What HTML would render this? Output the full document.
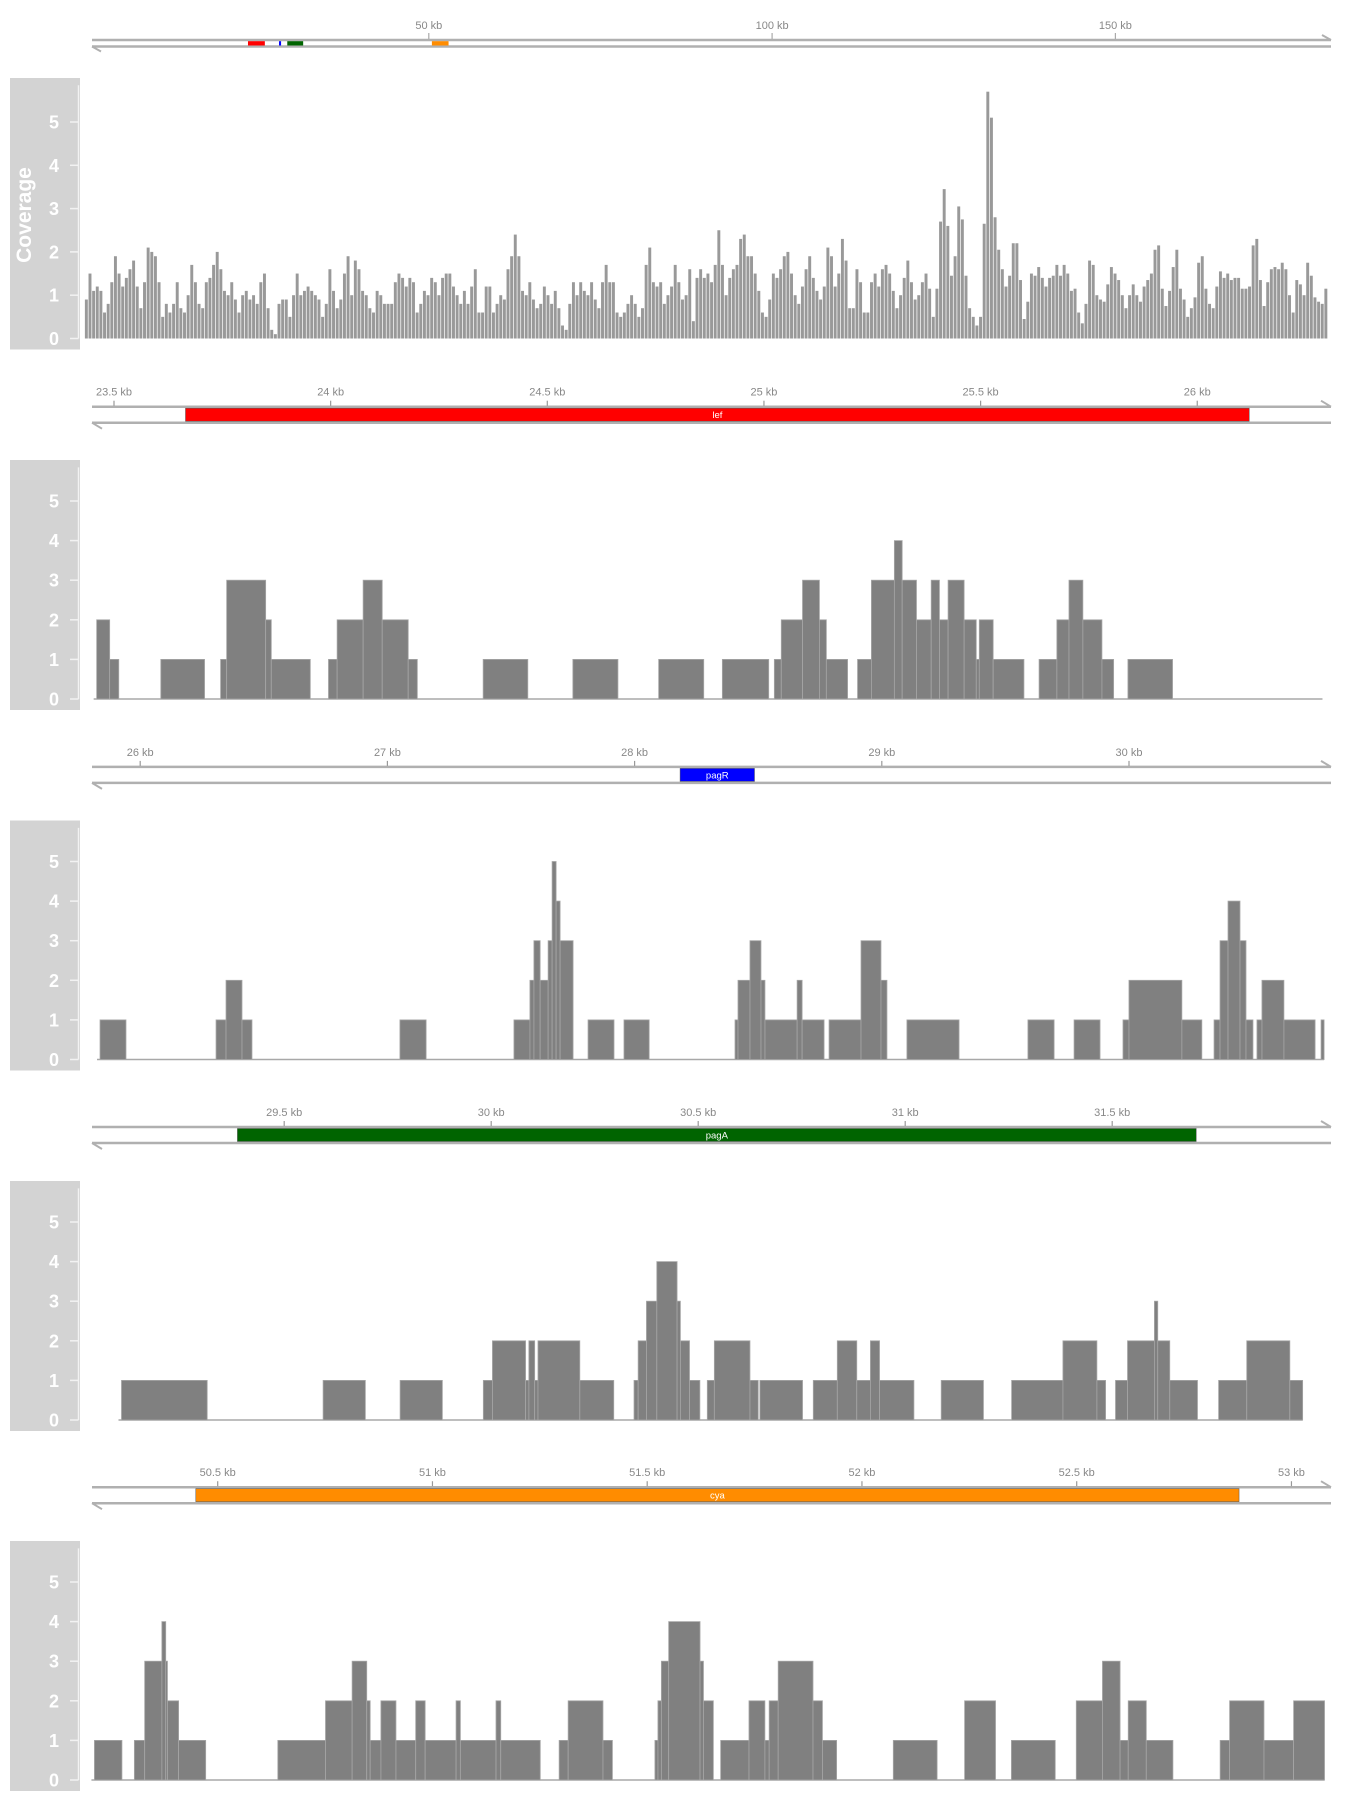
<!DOCTYPE html>
<html><head><meta charset="utf-8"><title>Coverage tracks</title>
<style>
html,body{margin:0;padding:0;background:#fff;}
svg{display:block;font-family:"Liberation Sans",sans-serif;}
</style></head>
<body>
<svg id="chart" width="1350" height="1800" viewBox="0 0 1350 1800" xmlns="http://www.w3.org/2000/svg"></svg>
<script>
// ---------- data ----------
const cov1Start = 23432, cov1End = 26301;
const cov1 = [0.9,1.5,1.1,1.2,1.1,0.6,0.8,1.3,1.9,1.5,1.2,
1.4,1.6,1.8,1.2,0.7,1.3,2.1,2.0,1.9,1.3,
0.5,0.8,0.6,0.8,1.3,0.7,0.6,1.0,1.7,1.3,0.8,0.7,1.3,1.4,1.7,2.0,1.6,
1.1,1.0,1.3,0.9,0.6,1.0,1.1,0.9,1.0,0.8,1.3,1.5,0.7,0.2,0.1,0.8,0.9,0.9,0.5,
1.0,1.5,1.0,1.1,1.2,1.1,1.0,0.9,0.5,0.8,1.6,1.1,0.7,0.9,1.5,1.9,1.0,1.8,1.6,
1.1,1.0,0.7,0.6,1.1,1.0,0.8,0.8,0.8,1.3,1.5,1.4,1.2,1.4,1.3,0.6,0.8,1.1,1.0,1.4,
1.3,1.0,1.4,1.5,1.5,1.2,1.0,0.8,1.1,0.8,1.2,1.6,0.6,0.6,1.2,1.2,0.6,0.8,1.0,0.9,1.6,
1.9,2.4,1.9,1.1,1.0,1.3,0.9,0.7,0.8,1.2,1.0,0.8,1.1,0.7,0.3,0.2,0.8,1.3,1.0,
1.3,1.1,1.0,1.3,0.9,0.7,1.3,1.7,1.3,1.3,0.6,0.5,0.6,0.8,1.0,0.8,
0.5,0.7,1.7,2.1,1.3,1.2,1.3,0.8,1.0,1.2,1.7,1.3,0.9,1.0,1.6,0.4,1.4,1.6,1.4,1.5,1.3,1.7,2.5,1.7,1.0,
1.4,1.6,1.7,2.3,2.4,1.9,1.9,1.5,1.1,0.6,0.5,0.9,1.5,1.4,1.6,1.9,2.0,1.5,1.0,0.8,1.2,1.6,1.9,1.4,1.1,0.9,
1.2,2.1,1.9,1.2,1.5,2.3,1.8,0.7,0.7,1.6,1.3,0.6,0.6,1.3,1.5,1.2,1.6,1.7,1.5,1.1,0.7,1.0,1.4,1.8,1.3,0.9,
1.0,1.3,1.5,1.15,0.5,1.15,2.7,3.45,2.6,1.45,1.9,3.05,2.75,1.45,0.7,0.5,0.3,0.5,2.65,
5.7,5.1,2.8,2.05,1.6,1.2,1.45,2.2,2.2,1.35,0.45,0.85,1.5,1.45,1.65,1.4,1.2,1.4,1.45,1.7,1.45,1.7,1.5,1.1,1.15,0.6,0.35,0.8,1.8,1.7,1.0,0.9,0.85,1.25,1.65,1.5,1.35,1.0,0.7,1.0,1.25,1.0,0.85,1.2,1.35,1.5,2.05,2.15,1.15,0.75,1.1,1.65,2.05,1.15,0.9,0.5,0.7,0.95,1.75,1.9,1.15,0.8,0.7,1.2,1.55,1.4,1.5,1.35,1.4,1.4,1.15,1.15,1.2,2.15,2.3,1.35,0.75,1.3,1.6,1.65,1.6,1.75,1.6,1.0,0.6,1.35,1.25,1.0,1.75,1.45,0.95,0.85,0.8,1.15];

const cov2Breaks = [23460,23490,23511,23608,23709,23746,23760,23850,23863,23953,23995,24015,24075,24119,24179,24200,24352,24455,24559,24663,24757,24861,24904,25011,25024,25040,25089,25128,25144,25193,25216,25248,25301,25319,25352,25386,25405,25425,25462,25490,25497,25529,25600,25635,25676,25704,25736,25780,25807,25840,25943,26289];
const cov2Vals = [2,1,0,1,0,1,3,2,1,0,1,2,3,2,1,0,1,0,1,0,1,0,1,0,1,2,3,2,1,0,1,3,4,3,2,3,2,3,2,1,2,1,0,1,2,3,2,1,0,1,0];

const cov3Breaks = [25839,25943,26304,26344,26408,26448,27041,27146,27498,27562,27578,27603,27635,27651,27667,27683,27735,27795,27899,27939,28040,28384,28396,28444,28488,28504,28633,28653,28741,28761,28889,28969,28993,29073,29282,29558,29663,29743,29847,29939,29963,30175,30255,30304,30328,30360,30408,30432,30460,30476,30496,30584,30709,30733,30745];
const cov3Vals = [1,0,1,2,1,0,1,0,1,2,3,2,3,5,4,3,0,1,0,1,0,1,2,3,2,1,2,1,0,1,3,2,0,1,0,1,0,1,0,1,2,1,0,1,3,4,3,1,0,1,2,1,0,1];

const cov4Breaks = [29107,29314,29594,29696,29780,29882,29981,30003,30083,30091,30105,30113,30214,30296,30345,30355,30375,30400,30449,30457,30479,30504,30522,30539,30625,30645,30649,30752,30778,30836,30883,30916,30938,31021,31087,31189,31257,31381,31463,31484,31508,31537,31602,31610,31639,31706,31757,31825,31929,31960];
const cov4Vals = [1,0,1,0,1,0,1,2,1,2,1,2,1,0,1,2,3,4,3,2,1,0,1,2,1,0,1,0,1,2,1,2,1,0,1,0,1,2,1,0,1,2,3,2,1,0,1,2,1];

const cov5Breaks = [50213,50277,50306,50330,50370,50379,50383,50409,50472,50640,50751,50813,50847,50855,50880,50915,50961,50983,51055,51065,51148,51159,51251,51295,51316,51397,51419,51518,51525,51533,51550,51623,51631,51654,51671,51737,51774,51784,51805,51886,51908,51941,52073,52175,52239,52311,52348,52450,52499,52560,52601,52620,52662,52724,52834,52856,52936,53005,53077];
const cov5Vals = [1,0,1,3,4,3,2,1,0,1,2,3,2,1,2,1,2,1,2,1,2,1,0,1,2,1,0,1,2,3,4,3,2,0,1,2,1,2,3,2,1,0,1,0,2,0,1,0,2,3,1,2,1,0,1,2,1,2];

const geneNames = ["lef","pagR","pagA","cya"];
const geneStarts = [23665,28184,29387,50449];
const geneEnds = [26120,28485,31703,52878];
const geneColors = ["#ff0000","#0000ff","#006400","#ff8c00"];
const overviewTicks = [50,100,150];
const yTicks = [0,1,2,3,4,5];
const lefTicks = [23.5,24,24.5,25,25.5,26];
const pagRTicks = [26,27,28,29,30];
const pagATicks = [29.5,30,30.5,31,31.5];
const cyaTicks = [50.5,51,51.5,52,52.5,53];

// ---------- helpers ----------
const svg = document.getElementById('chart');
const NS = 'http://www.w3.org/2000/svg';
function mk(tag, attrs, parent){
  const e = document.createElementNS(NS, tag);
  for (const k in attrs) e.setAttribute(k, attrs[k]);
  (parent||svg).appendChild(e);
  return e;
}
const xLef = bp => 114 + (bp - 23500) * 0.4333;
const xPagRCov = bp => 140.2 + (bp - 26000) * 0.2495;
const xPagR = bp => 140.2 + (bp - 26000) * 0.2472;
const xPagA = bp => 284.2 + (bp - 29500) * 0.414;
const xCya = bp => 217.7 + (bp - 50500) * 0.4295;
const xOver = kb => 85.5 + kb * 6.866;
const zeros = [338.5, 699, 1059.5, 1420, 1780];
const units = [43.3, 39.6, 39.6, 39.6, 39.6];
function yScale(p){ return v => zeros[p] - v * units[p]; }

// ---------- overview ideogram ----------
const ov = mk('g', {});


mk('line', {x1:92, y1:40, x2:1331, y2:40, stroke:'#b0b0b0', 'stroke-width':2.5}, ov);
mk('line', {x1:92, y1:46.5, x2:1331, y2:46.5, stroke:'#b0b0b0', 'stroke-width':2.5}, ov);
mk('path', {d:'M1322,35 L1331,40', stroke:'#b0b0b0', 'stroke-width':2, fill:'none'}, ov);
mk('path', {d:'M101,51.5 L92,46.5', stroke:'#b0b0b0', 'stroke-width':2, fill:'none'}, ov);
overviewTicks.forEach(t => {
  const x = xOver(t);
  const tk = mk('line', {x1:x, y1:33, x2:x, y2:39, stroke:'#aaa', 'stroke-width':1.2}, ov);
  
  
  const lb = mk('text', {x:x, y:29, 'text-anchor':'middle', 'font-size':11, fill:'#888'}, ov);
  lb.textContent = t + ' kb';
  
  
});
geneNames.forEach((g, i) => {
  const x1 = xOver(geneStarts[i] / 1000), x2 = xOver(geneEnds[i] / 1000);
  const r = mk('rect', {x:x1, y:41.2, width:Math.max(1.5, x2 - x1), height:4.3, fill:geneColors[i]}, ov);
  
  
});

// ---------- y axis panel boxes ----------
function yPanel(p, withTitle){
  const g = mk('g', {});
  
  
  const top = p === 0 ? 78 : zeros[p] - 239;
  const bottom = zeros[p] + 11;
  mk('rect', {x:10, y:top, width:70, height:bottom - top, fill:'#d3d3d3'}, g);
  const ys = yScale(p);
  mk('line', {x1:78.5, y1:ys(5.85), x2:78.5, y2:ys(0), stroke:'#f2f2f2', 'stroke-width':1.5}, g);
  yTicks.forEach(t => {
    const y = ys(t);
    const tk = mk('line', {x1:70, y1:y, x2:78.5, y2:y, stroke:'#f2f2f2', 'stroke-width':1.5}, g);
    
    
    const lb = mk('text', {x:59, y:y + 6.5, 'text-anchor':'end', 'font-size':18, 'font-weight':'bold', fill:'#ffffff'}, g);
    lb.textContent = t;
    
    
  });
  if (withTitle){
    const tt = mk('text', {x:0, y:0, transform:'translate(31,215) rotate(-90)', 'text-anchor':'middle', 'font-size':21, 'font-weight':'bold', fill:'#ffffff'}, g);
    tt.textContent = 'Coverage';
    
    
  }
}
for (let p = 0; p < 5; p++) yPanel(p, p === 0);

// ---------- panel 1 bars ----------
const p1 = mk('g', {});


const y1 = yScale(0);
const binW = (cov1End - cov1Start) / cov1.length;
cov1.forEach((v, i) => {
  const xa = xLef(cov1Start + i * binW), xb = xLef(cov1Start + (i + 1) * binW);
  const r = mk('rect', {x:xa + 0.35, y:y1(v), width:Math.max(0.5, xb - xa - 0.7), height:y1(0) - y1(v), fill:'#999999'}, p1);
  
  
});

// ---------- step panels ----------
function stepPanel(p, breaks, vals, xf, name){
  const g = mk('g', {});
  
  
  const ys = yScale(p);
  mk('line', {x1:xf(breaks[0]) - 3, y1:ys(0), x2:xf(breaks[breaks.length - 1]), y2:ys(0), stroke:'#a8a8a8', 'stroke-width':1.6}, g);
  vals.forEach((v, i) => {
    if (v <= 0) return;
    const xa = xf(breaks[i]), xb = xf(breaks[i + 1]);
    const r = mk('rect', {x:xa, y:ys(v), width:xb - xa, height:ys(0) - ys(v), fill:'#808080', stroke:'#a6a6a6', 'stroke-width':0.8}, g);
    
    
  });
}
stepPanel(1, cov2Breaks, cov2Vals, xLef, 'coverage-panel-lef');
stepPanel(2, cov3Breaks, cov3Vals, xPagRCov, 'coverage-panel-pagR');
stepPanel(3, cov4Breaks, cov4Vals, xPagA, 'coverage-panel-pagA');
stepPanel(4, cov5Breaks, cov5Vals, xCya, 'coverage-panel-cya');

// ---------- gene tracks ----------
function geneTrack(k, topY, ticks, xf){
  const g = mk('g', {});
  
  
  const botY = topY + 16;
  mk('line', {x1:92, y1:topY, x2:1331, y2:topY, stroke:'#b0b0b0', 'stroke-width':2.5}, g);
  mk('line', {x1:92, y1:botY, x2:1331, y2:botY, stroke:'#b0b0b0', 'stroke-width':2.5}, g);
  mk('path', {d:'M1321,' + (topY - 6) + ' L1331,' + topY, stroke:'#b0b0b0', 'stroke-width':2, fill:'none'}, g);
  mk('path', {d:'M102,' + (botY + 6) + ' L92,' + botY, stroke:'#b0b0b0', 'stroke-width':2, fill:'none'}, g);
  ticks.forEach(t => {
    const x = xf(t * 1000);
    const tk = mk('line', {x1:x, y1:topY - 6, x2:x, y2:topY - 1, stroke:'#999', 'stroke-width':1.2}, g);
    
    
    const lb = mk('text', {x:x, y:topY - 11, 'text-anchor':'middle', 'font-size':11, fill:'#888'}, g);
    lb.textContent = t + ' kb';
    
    
  });
  const xa = xf(geneStarts[k]), xb = xf(geneEnds[k]);
  const box = mk('rect', {x:xa, y:topY + 1.5, width:xb - xa, height:13, fill:geneColors[k], stroke:'#555', 'stroke-width':0.5}, g);
  
  
  const lb = mk('text', {x:(xa + xb) / 2, y:topY + 11.5, 'text-anchor':'middle', 'font-size':9.5, fill:'#ffffff'}, g);
  lb.textContent = geneNames[k];
  
  
}
geneTrack(0, 406.7, lefTicks, xLef);
geneTrack(1, 766.9, pagRTicks, xPagR);
geneTrack(2, 1127, pagATicks, xPagA);
geneTrack(3, 1487.2, cyaTicks, xCya);
</script>
</body></html>
